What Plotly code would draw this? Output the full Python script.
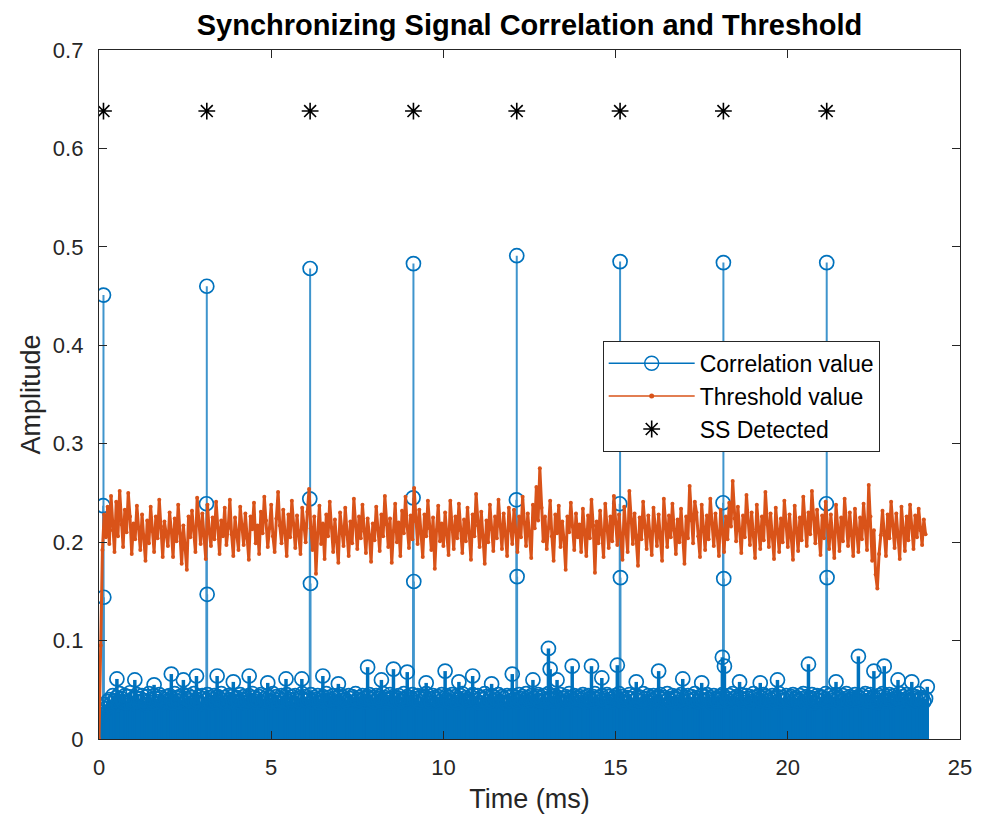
import plotly.graph_objects as go

# ---------------- data ----------------
# correlation noise floor, sampled every 0.05 ms from 0 to 24 ms (thousandths)
step_ms = 0.05
noise_milli = [
    28, 33, 24, 35, 31, 38, 40, 36, 44, 39, 42, 35, 46, 41, 38, 44, 37, 43, 47, 40, 36, 42, 45, 38, 41, 44, 39, 35, 43, 46, 40, 37, 44, 41, 38, 45, 42, 36, 40, 43,
    39, 44, 41, 37, 46, 42, 38, 43, 40, 45, 37, 41, 44, 39, 42, 46, 38, 40, 43, 36, 44, 41, 39, 45, 42, 37, 40, 44, 38, 43, 41, 46, 39, 42, 37, 44, 40, 43, 38, 41,
    42, 38, 45, 40, 43, 37, 41, 44, 39, 46, 42, 38, 40, 43, 45, 37, 41, 39, 44, 42, 38, 46, 40, 43, 37, 41, 44, 39, 42, 45, 38, 40, 43, 36, 44, 41, 39, 42, 46, 40,
    43, 39, 41, 45, 38, 42, 40, 44, 37, 41, 43, 39, 46, 42, 38, 40, 44, 41, 37, 43, 45, 39, 42, 40, 38, 44, 41, 43, 37, 46, 40, 42, 39, 44, 41, 38, 43, 45, 40, 42,
    38, 44, 41, 43, 39, 46, 42, 40, 37, 45, 41, 43, 39, 42, 44, 38, 40, 46, 41, 43, 37, 42, 45, 39, 41, 44, 38, 43, 40, 42, 46, 39, 41, 37, 44, 42, 40, 43, 38, 45,
    41, 39, 44, 42, 38, 45, 40, 43, 37, 41, 44, 46, 39, 42, 40, 38, 43, 45, 41, 39, 44, 37, 42, 40, 46, 43, 38, 41, 44, 39, 42, 40, 45, 38, 43, 41, 37, 44, 42, 39,
    44, 40, 42, 38, 45, 41, 43, 39, 46, 42, 40, 44, 37, 41, 43, 45, 39, 42, 44, 40, 38, 46, 41, 43, 39, 44, 42, 40, 45, 38, 41, 43, 39, 46, 42, 40, 44, 38, 41, 43,
    40, 45, 42, 38, 44, 41, 39, 43, 46, 40, 42, 37, 44, 41, 39, 45, 43, 40, 38, 42, 44, 41, 46, 39, 43, 40, 37, 42, 45, 41, 38, 44, 40, 43, 39, 42, 46, 41, 38, 44,
    42, 39, 44, 41, 37, 43, 45, 40, 42, 38, 46, 41, 39, 44, 42, 40, 43, 37, 45, 41, 38, 42, 44, 39, 43, 40, 46, 42, 38, 41, 44, 39, 43, 45, 40, 42, 37, 44, 41, 39,
    43, 41, 45, 39, 42, 40, 44, 38, 46, 41, 43, 39, 42, 45, 40, 37, 44, 41, 43, 38, 46, 42, 40, 44, 39, 41, 45, 43, 38, 42, 40, 44, 41, 37, 43, 46, 39, 42, 40, 44,
    41, 38, 43, 45, 40, 42, 39, 44, 41, 46, 38, 43, 40, 42, 45, 37, 41, 44, 39, 43, 42, 40, 46, 38, 44, 41, 39, 43, 45, 40, 42, 38, 44, 41, 46, 39, 43, 40, 42, 45,
    40, 43, 41, 44, 38, 46, 42, 39, 45, 41, 43, 40, 37, 44, 42, 46, 39, 41, 43, 45, 40, 38, 44, 42, 41, 46, 39, 43, 40, 45, 42, 38, 44, 41, 43, 39, 46, 40, 42, 38,
    41,
]

# isolated larger noise samples standing out above the floor
spur_ms = [0.52, 1.04, 1.60, 2.10, 2.45, 2.83, 3.43, 3.90, 4.36, 4.90, 5.43, 5.89,
           6.50, 6.95, 7.80, 8.20, 8.55, 8.95, 9.50, 10.05, 10.45, 10.85, 11.40, 12.00,
           12.60, 13.05, 13.10, 13.30, 13.74, 14.30, 14.60, 15.05, 15.60, 16.25, 16.95, 17.50,
           18.10, 18.16, 18.60, 19.20, 19.70, 20.60, 21.40, 22.05, 22.50, 22.80, 23.20, 23.60, 24.05]
spur_val = [0.061, 0.060, 0.055, 0.066, 0.060, 0.064, 0.064, 0.058, 0.064, 0.057, 0.061, 0.061,
            0.064, 0.056, 0.073, 0.060, 0.071, 0.068, 0.057, 0.069, 0.058, 0.064, 0.056, 0.066,
            0.060, 0.092, 0.071, 0.060, 0.074, 0.074, 0.062, 0.075, 0.058, 0.069, 0.061, 0.057,
            0.083, 0.074, 0.058, 0.057, 0.060, 0.076, 0.058, 0.084, 0.069, 0.074, 0.060, 0.058, 0.053]

# synchronizing-signal correlation peaks (main sample and its two neighbours)
peak_ms = [0.13, 3.13, 6.13, 9.13, 12.13, 15.13, 18.13, 21.13]
peak_main = [0.451, 0.460, 0.478, 0.483, 0.491, 0.485, 0.484, 0.484]
peak_side_hi = [0.237, 0.239, 0.244, 0.245, 0.243, 0.239, 0.240, 0.239]
peak_side_lo = [0.144, 0.147, 0.158, 0.160, 0.165, 0.164, 0.163, 0.164]

# detection threshold, sampled every 0.05 ms (thousandths)
threshold_milli = [
    0, 95, 192, 228, 205, 236, 198, 247, 212, 190, 241, 206, 252, 218, 195, 233, 210, 250, 226, 188, 219, 203, 237, 214, 192, 228, 207, 181, 222, 199, 236, 211, 190, 226, 204, 243, 216, 185, 221, 209,
    196, 230, 212, 185, 224, 201, 238, 209, 178, 217, 193, 172, 226, 205, 232, 214, 190, 245, 220, 198, 229, 207, 183, 238, 211, 196, 225, 203, 241, 215, 188, 222, 206, 235, 197, 214, 243, 208, 186, 225,
    211, 192, 236, 218, 197, 229, 204, 182, 226, 213, 240, 199, 217, 188, 231, 209, 246, 222, 195, 214, 238, 206, 190, 224, 251, 217, 199, 233, 210, 186, 228, 205, 242, 219, 194, 227, 211, 188, 235, 213,
    200, 231, 254, 214, 192, 226, 168, 209, 237, 198, 219, 183, 228, 206, 241, 215, 190, 223, 201, 179, 230, 212, 196, 235, 208, 186, 221, 199, 244, 217, 193, 226, 204, 238, 211, 189, 224, 207, 180, 219,
    202, 236, 213, 191, 228, 206, 247, 218, 195, 224, 179, 211, 239, 200, 220, 186, 232, 209, 246, 216, 194, 227, 203, 255, 221, 198, 233, 210, 185, 228, 206, 242, 214, 192, 225, 173, 212, 237, 201, 219,
    196, 230, 208, 187, 242, 215, 193, 226, 204, 239, 212, 189, 223, 201, 235, 210, 182, 228, 206, 249, 217, 195, 231, 207, 178, 222, 200, 238, 213, 191, 226, 204, 243, 216, 193, 229, 209, 186, 235, 212,
    198, 233, 211, 190, 226, 205, 246, 219, 196, 229, 207, 184, 238, 214, 256, 222, 275, 235, 201, 226, 193, 214, 242, 206, 181, 228, 209, 237, 195, 221, 203, 172, 226, 210, 240, 216, 192, 229, 205, 218,
    190, 234, 212, 186, 227, 204, 243, 217, 169, 221, 199, 232, 208, 185, 239, 213, 194, 226, 201, 247, 219, 197, 228, 206, 182, 236, 211, 190, 252, 223, 198, 229, 207, 176, 225, 203, 241, 215, 193, 227,
    209, 187, 235, 213, 196, 228, 204, 181, 244, 218, 195, 227, 205, 239, 212, 188, 223, 200, 234, 209, 178, 226, 204, 257, 222, 199, 241, 230, 206, 185, 238, 214, 192, 227, 203, 244, 219, 196, 229, 208,
    186, 233, 211, 190, 226, 203, 240, 216, 262, 224, 201, 236, 212, 189, 227, 205, 248, 220, 197, 230, 207, 184, 238, 214, 193, 226, 202, 251, 218, 195, 229, 206, 183, 235, 212, 190, 224, 200, 242, 217,
    195, 228, 205, 182, 237, 213, 191, 225, 202, 246, 219, 196, 230, 208, 252, 224, 199, 233, 210, 187, 227, 204, 241, 216, 193, 228, 206, 184, 238, 213, 191, 225, 201, 244, 219, 196, 230, 207, 186, 234,
    211, 190, 225, 203, 239, 215, 192, 258, 226, 181, 212, 167, 153, 188, 207, 232, 209, 186, 228, 204, 241, 217, 194, 229, 206, 183, 236, 213, 191, 226, 202, 238, 215, 193, 227, 205, 234, 212, 197, 223,
    208,
]

# detection markers
detect_level = 0.638

x_ticks = [0, 5, 10, 15, 20, 25]
y_ticks = [0, 0.1, 0.2, 0.3, 0.4, 0.5, 0.6, 0.7]
y_tick_text = ["0", "0.1", "0.2", "0.3", "0.4", "0.5", "0.6", "0.7"]

# ---------------- assemble the correlation series ----------------
samples = [(i * step_ms, v / 1000.0) for i, v in enumerate(noise_milli)]
samples += list(zip(spur_ms, spur_val))
for t, hi, mid, lo in zip(peak_ms, peak_main, peak_side_hi, peak_side_lo):
    samples += [(t - 0.01, mid), (t, hi), (t + 0.01, lo)]
samples.sort()
corr_t = [s[0] for s in samples]
corr_v = [s[1] for s in samples]

thr_t = [i * step_ms for i in range(len(threshold_milli))]
thr_v = [v / 1000.0 for v in threshold_milli]

BLUE = "#0072BD"
ORANGE = "#D95319"
INK = "#262626"
FONT = "Liberation Sans"


def stems(pairs):
    """Vertical segments from zero to each value, separated with None."""
    xs, ys = [], []
    for t, v in pairs:
        xs += [t, t, None]
        ys += [0, v, None]
    return xs, ys


# the dense floor stems are drawn heavier so they merge; tall stems stay thin
floor_x, floor_y = stems([(t, v) for t, v in zip(corr_t, corr_v) if v < 0.1])
tall_x, tall_y = stems([(t, v) for t, v in zip(corr_t, corr_v) if v >= 0.1])

fig = go.Figure()

fig.add_trace(go.Scatter(
    x=floor_x, y=floor_y, mode="lines",
    line=dict(color=BLUE, width=3.5),
    hoverinfo="skip", showlegend=False, legendgroup="corr",
))
fig.add_trace(go.Scatter(
    x=tall_x, y=tall_y, mode="lines",
    line=dict(color=BLUE, width=2),
    opacity=0.75,
    hoverinfo="skip", showlegend=False, legendgroup="corr",
))
fig.add_trace(go.Scatter(
    x=corr_t, y=corr_v, mode="markers",
    marker=dict(symbol="circle-open", size=14, color=BLUE, line=dict(width=1.7, color=BLUE)),
    showlegend=False, legendgroup="corr",
))
fig.add_trace(go.Scatter(
    x=thr_t, y=thr_v, mode="lines+markers",
    line=dict(color=ORANGE, width=3),
    marker=dict(symbol="circle", size=4, color=ORANGE),
    showlegend=False, legendgroup="thr",
))
fig.add_trace(go.Scatter(
    x=peak_ms, y=[detect_level] * len(peak_ms), mode="markers",
    marker=dict(symbol="asterisk-open", size=14, color="black", line=dict(width=1.6, color="black")),
    showlegend=False, legendgroup="ss",
))

# legend entries (thin line + marker glyphs)
fig.add_trace(go.Scatter(
    x=[None], y=[None], mode="lines+markers", name="Correlation value",
    line=dict(color=BLUE, width=1.5),
    marker=dict(symbol="circle-open", size=14, color=BLUE, line=dict(width=1.5, color=BLUE)),
    legendgroup="corr",
))
fig.add_trace(go.Scatter(
    x=[None], y=[None], mode="lines+markers", name="Threshold value",
    line=dict(color=ORANGE, width=1.5),
    marker=dict(symbol="circle", size=5, color=ORANGE),
    legendgroup="thr",
))
fig.add_trace(go.Scatter(
    x=[None], y=[None], mode="markers", name="SS Detected",
    marker=dict(symbol="asterisk-open", size=14, color="black", line=dict(width=1.6, color="black")),
    legendgroup="ss",
))

axis_common = dict(
    showgrid=False, zeroline=False,
    showline=True, linecolor=INK, linewidth=1.3, mirror="ticks",
    ticks="inside", ticklen=8, tickwidth=1.3, tickcolor=INK,
    tickfont=dict(family=FONT, size=22, color=INK),
)

fig.update_layout(
    width=984, height=821,
    margin=dict(l=99, r=20, t=50, b=82),
    paper_bgcolor="white", plot_bgcolor="white",
    font=dict(family=FONT, color=INK),
    title=dict(
        text="<b>Synchronizing Signal Correlation and Threshold</b>",
        font=dict(family=FONT, size=29, color="black"),
        x=0.5, xref="paper", xanchor="center",
        y=1 - 25 / 821, yref="container", yanchor="middle",
    ),
    xaxis=dict(
        range=[0, 25], tickvals=x_ticks, ticklabelstandoff=8,
        title=dict(text="Time (ms)", font=dict(family=FONT, size=27, color=INK), standoff=10),
        **axis_common,
    ),
    yaxis=dict(
        range=[0, 0.7], tickvals=y_ticks, ticktext=y_tick_text, ticklabelstandoff=10,
        title=dict(text="Amplitude", font=dict(family=FONT, size=27, color=INK), standoff=4),
        **axis_common,
    ),
    legend=dict(
        x=0.585, y=0.578, xanchor="left", yanchor="top",
        bgcolor="white", bordercolor=INK, borderwidth=1,
        font=dict(family=FONT, size=23, color="black"),
        tracegroupgap=0, itemwidth=86,
    ),
)

fig.write_html("out.html")
